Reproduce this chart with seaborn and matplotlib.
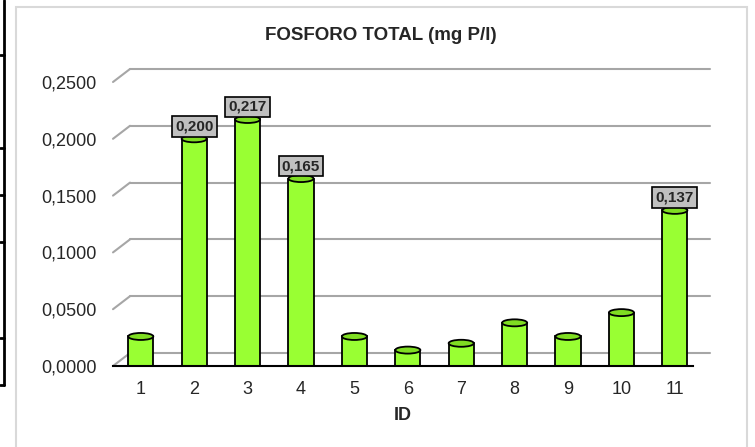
import matplotlib
matplotlib.use("Agg")
import matplotlib.pyplot as plt
from matplotlib.patches import Ellipse, Rectangle
from matplotlib.lines import Line2D
import seaborn as sns
import pandas as pd

# ================================
# Data
# ================================
ids = ["1", "2", "3", "4", "5", "6", "7", "8", "9", "10", "11"]
fosforo = [0.026, 0.200, 0.217, 0.165, 0.026, 0.014, 0.020, 0.038, 0.026, 0.047, 0.137]
shown_labels = {"2": "0,200", "3": "0,217", "4": "0,165", "11": "0,137"}
y_ticks = [0.0, 0.05, 0.10, 0.15, 0.20, 0.25]
y_tick_labels = ["0,0000", "0,0500", "0,1000", "0,1500", "0,2000", "0,2500"]

df = pd.DataFrame({"ID": ids, "P": fosforo})

# ================================
# Style
# ================================
sns.set_style("white")
plt.rcParams["font.family"] = ["Liberation Sans", "DejaVu Sans"]

bar_green = "#99FF33"
top_green = "#7FDD22"
grid_grey = "#A6A6A6"

fig = plt.figure(figsize=(7.55, 4.47), dpi=100)
ax = fig.add_axes([113 / 755, 81 / 447, 580 / 755, 284 / 447])

sns.barplot(data=df, x="ID", y="P", color=bar_green, edgecolor="black",
            linewidth=1.3, width=0.47, saturation=1, ax=ax, zorder=3)

ax.set_xlim(-0.52, 10.34)
ax.set_ylim(0, 0.25)
ax.set_yticks(y_ticks)
ax.set_yticklabels(y_tick_labels, fontsize=13)
ax.tick_params(axis="y", length=0, pad=12)
ax.tick_params(axis="x", length=0, pad=11, labelsize=13)
for s in ["top", "right", "left"]:
    ax.spines[s].set_visible(False)
ax.spines["bottom"].set_color("black")
ax.spines["bottom"].set_linewidth(1.5)
ax.spines["bottom"].set_zorder(4)

fig.text(381 / 755, 1 - 35 / 447, "FOSFORO TOTAL (mg P/l)", fontsize=13.5,
         fontweight="bold", ha="center", va="center")
ax.set_xlabel("ID", fontsize=13, fontweight="bold", labelpad=6)
ax.set_ylabel("")

# ================================
# 3D-look back wall grid (offset in pixels)
# ================================
fig.canvas.draw()
p0 = ax.transData.transform((0, 0))
off = ax.transData.inverted().transform(p0 + [17, 13])
dx, dy = off[0], off[1]
x0, x1 = ax.get_xlim()
for v in y_ticks:
    ax.add_line(Line2D([x0 + dx, x1 + dx], [v + dy, v + dy], color=grid_grey,
                       lw=1.5, zorder=1, clip_on=False))
    ax.add_line(Line2D([x0, x0 + dx], [v, v + dy], color=grid_grey,
                       lw=1.5, zorder=1, clip_on=False))

# cylinder caps and value boxes
ell_h = 7 / (ax.transData.transform((0, 1))[1] - p0[1])
for i, v in enumerate(fosforo):
    ax.add_patch(Ellipse((i, v), 0.47, ell_h, facecolor=top_green,
                         edgecolor="black", lw=1.3, zorder=3.5, clip_on=False))
    if ids[i] in shown_labels:
        ax.annotate(shown_labels[ids[i]], (i, v), xytext=(0, 4),
                    textcoords="offset points", ha="center", va="bottom",
                    fontsize=11, fontweight="bold", zorder=5,
                    bbox=dict(boxstyle="square,pad=0.22", fc="#C0C0C0",
                              ec="black", lw=1.2))

# chart frame and spreadsheet cell borders
fig.patches.append(Rectangle((16 / 755, -0.01), 731 / 755, 1 - 7 / 447 + 0.01,
                             transform=fig.transFigure, fill=False,
                             edgecolor="#D9D9D9", lw=1.5))
fig.lines.append(Line2D([4 / 755, 4 / 755], [1, 1 - 385 / 447], color="black",
                        lw=2, transform=fig.transFigure))
for yy in [55, 148, 195, 242, 338, 385]:
    fig.lines.append(Line2D([0, 4 / 755], [1 - yy / 447, 1 - yy / 447],
                            color="black", lw=2, transform=fig.transFigure))

plt.savefig("out.png", dpi=100)
